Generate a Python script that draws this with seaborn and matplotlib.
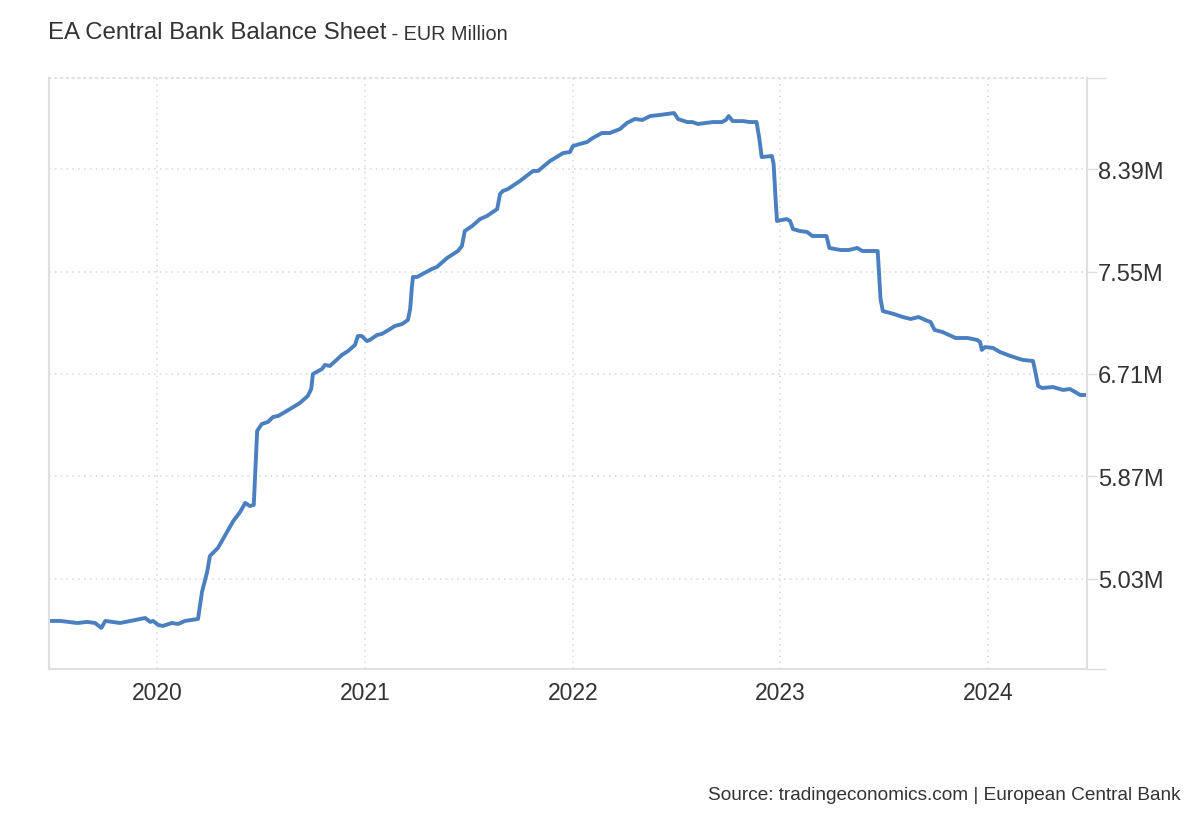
import matplotlib
matplotlib.use("Agg")
import matplotlib.pyplot as plt
import seaborn as sns
import pandas as pd

# Balance sheet, EUR Million (values in millions of EUR Million, i.e. "M")
dates = [
    "2019-06-25", "2019-07-15", "2019-08-14", "2019-08-31", "2019-09-14", "2019-09-25",
    "2019-10-02", "2019-10-28", "2019-11-15", "2019-12-11", "2019-12-20", "2019-12-25",
    "2020-01-03", "2020-01-11", "2020-01-27", "2020-02-07", "2020-02-19", "2020-03-13",
    "2020-03-20", "2020-03-29", "2020-04-03", "2020-04-17", "2020-04-24", "2020-05-14",
    "2020-05-26", "2020-06-04", "2020-06-12", "2020-06-19", "2020-06-25", "2020-07-03",
    "2020-07-14", "2020-07-23", "2020-08-01", "2020-08-16", "2020-09-08", "2020-09-22",
    "2020-09-28", "2020-10-01", "2020-10-17", "2020-10-22", "2020-10-31", "2020-11-21",
    "2020-12-02", "2020-12-14", "2020-12-19", "2020-12-26", "2021-01-04", "2021-01-09",
    "2021-01-22", "2021-01-30", "2021-02-08", "2021-02-22", "2021-03-07", "2021-03-17",
    "2021-03-21", "2021-03-24", "2021-03-26", "2021-04-02", "2021-04-12", "2021-04-28",
    "2021-05-07", "2021-05-25", "2021-06-13", "2021-06-20", "2021-06-25", "2021-07-08",
    "2021-07-22", "2021-08-03", "2021-08-21", "2021-08-26", "2021-08-31", "2021-09-09",
    "2021-09-30", "2021-10-23", "2021-11-01", "2021-11-09", "2021-11-22", "2021-12-15",
    "2021-12-27", "2022-01-01", "2022-01-13", "2022-01-26", "2022-02-05", "2022-02-21",
    "2022-03-07", "2022-03-25", "2022-04-06", "2022-04-20", "2022-05-03", "2022-05-17",
    "2022-06-03", "2022-06-16", "2022-06-28", "2022-07-05", "2022-07-21", "2022-07-30",
    "2022-08-09", "2022-09-04", "2022-09-20", "2022-09-27", "2022-10-02", "2022-10-09",
    "2022-10-27", "2022-11-08", "2022-11-20", "2022-11-25", "2022-11-29", "2022-12-17",
    "2022-12-20", "2022-12-24", "2022-12-26", "2023-01-12", "2023-01-18", "2023-01-23",
    "2023-02-04", "2023-02-17", "2023-02-26", "2023-03-23", "2023-03-28", "2023-04-17",
    "2023-05-01", "2023-05-16", "2023-05-25", "2023-06-21", "2023-06-26", "2023-06-30",
    "2023-07-19", "2023-08-04", "2023-08-18", "2023-09-01", "2023-09-17", "2023-09-22",
    "2023-09-29", "2023-10-13", "2023-11-05", "2023-11-26", "2023-12-13", "2023-12-18",
    "2023-12-21", "2023-12-27", "2024-01-10", "2024-01-22", "2024-02-09", "2024-03-02",
    "2024-03-20", "2024-03-25", "2024-03-29", "2024-04-05", "2024-04-24", "2024-05-12",
    "2024-05-24", "2024-06-11", "2024-06-21",
]
values = [
    4.686, 4.686, 4.669, 4.678, 4.669, 4.629,
    4.686, 4.669, 4.686, 4.710, 4.678, 4.686,
    4.653, 4.645, 4.669, 4.661, 4.686, 4.702,
    4.924, 5.087, 5.219, 5.284, 5.341, 5.505,
    5.579, 5.653, 5.628, 5.636, 6.243, 6.300,
    6.317, 6.358, 6.366, 6.407, 6.472, 6.530,
    6.587, 6.710, 6.751, 6.784, 6.776, 6.866,
    6.899, 6.948, 7.021, 7.021, 6.980, 6.989,
    7.030, 7.038, 7.062, 7.103, 7.120, 7.153,
    7.243, 7.423, 7.505, 7.505, 7.530, 7.570,
    7.587, 7.661, 7.718, 7.759, 7.882, 7.923,
    7.980, 8.005, 8.062, 8.185, 8.210, 8.226,
    8.292, 8.374, 8.374, 8.406, 8.456, 8.521,
    8.529, 8.578, 8.595, 8.611, 8.644, 8.685,
    8.685, 8.718, 8.767, 8.800, 8.792, 8.824,
    8.833, 8.841, 8.849, 8.800, 8.775, 8.775,
    8.759, 8.775, 8.775, 8.792, 8.824, 8.783,
    8.783, 8.775, 8.775, 8.636, 8.488, 8.497,
    8.431, 8.103, 7.964, 7.980, 7.964, 7.898,
    7.882, 7.874, 7.841, 7.841, 7.743, 7.726,
    7.726, 7.743, 7.718, 7.718, 7.325, 7.226,
    7.202, 7.177, 7.161, 7.177, 7.144, 7.136,
    7.071, 7.054, 7.005, 7.005, 6.989, 6.972,
    6.907, 6.931, 6.923, 6.890, 6.858, 6.825,
    6.817, 6.710, 6.612, 6.595, 6.603, 6.579,
    6.587, 6.538, 6.538,
]
y_ticks = [5.03, 5.87, 6.71, 7.55, 8.39]
y_tick_labels = ["5.03M", "5.87M", "6.71M", "7.55M", "8.39M"]
x_tick_years = ["2020", "2021", "2022", "2023", "2024"]

title = "EA Central Bank Balance Sheet"
subtitle = " - EUR Million"
source = "Source: tradingeconomics.com | European Central Bank"

df = pd.DataFrame({"date": pd.to_datetime(dates), "value": values})

sns.set_style("white")
plt.rcParams["font.family"] = ["Liberation Sans", "DejaVu Sans"]

fig = plt.figure(figsize=(12, 8.2), dpi=100)
ax = fig.add_axes([49 / 1200, 1 - 670 / 820, (1087 - 49) / 1200, (670 - 79) / 820])

sns.lineplot(data=df, x="date", y="value", ax=ax, color="#4a7fc0", linewidth=2.8)

ax.set_xlim(pd.Timestamp("2019-06-25"), pd.Timestamp("2024-06-23"))
ax.set_ylim(4.292, 9.136)

grid_c = "#dcdcdc"
ax.set_xticks(pd.to_datetime([y + "-01-01" for y in x_tick_years]))
ax.set_xticklabels(x_tick_years)
ax.set_yticks(y_ticks)
ax.set_yticklabels(y_tick_labels)
ax.yaxis.tick_right()
ax.set_xlabel("")
ax.set_ylabel("")

ax.grid(True, color=grid_c, linestyle=(0, (1, 2.5)), linewidth=1.2)
ax.tick_params(axis="x", length=0, pad=9, labelsize=16.5, labelcolor="#333333")
ax.tick_params(axis="y", which="major", length=7, pad=1, width=1,
               color=grid_c, labelsize=17, labelcolor="#333333")
ax.set_yticks([4.292, 9.136], minor=True)
ax.tick_params(axis="y", which="minor", length=14, width=1, color=grid_c, right=True, left=False)

for side in ["left", "bottom", "right"]:
    ax.spines[side].set_color("#e0e0e0")
    ax.spines[side].set_linewidth(1.5)
ax.spines["top"].set_color(grid_c)
ax.spines["top"].set_linestyle((0, (1, 2.5)))
ax.spines["top"].set_linewidth(1.2)

t = fig.text(48 / 1200, 1 - 33 / 820, title, fontsize=17.3, color="#333333", va="center")
fig.canvas.draw()
bb = t.get_window_extent()
fig.text(bb.x1 / 1200, 1 - 34 / 820, subtitle, fontsize=14.3, color="#333333", va="center")
fig.text(1180 / 1200, 1 - 796 / 820, source, fontsize=13.7, color="#333333", ha="right", va="center")

fig.savefig("out.png", dpi=100)
